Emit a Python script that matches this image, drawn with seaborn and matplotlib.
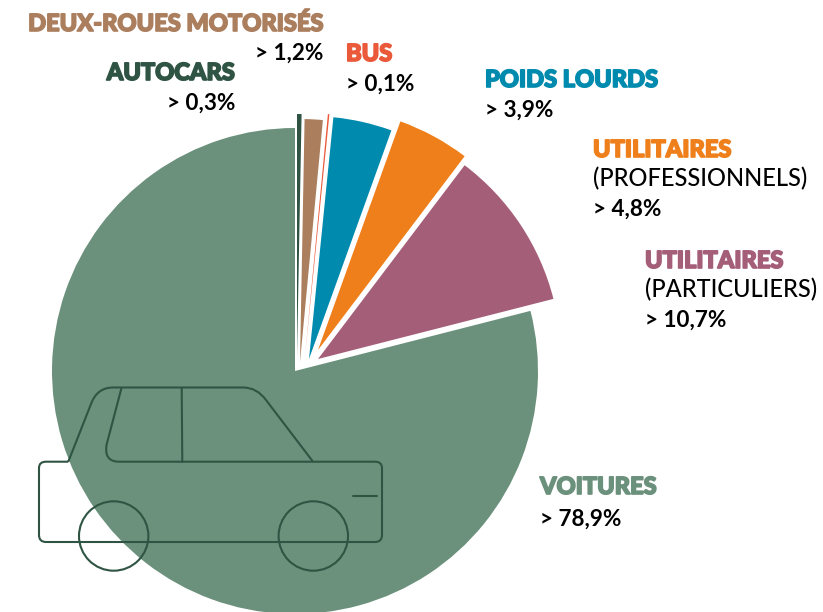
import matplotlib
matplotlib.use("Agg")
import matplotlib.pyplot as plt
import matplotlib.patheffects as path_effects
from matplotlib.patches import Circle, PathPatch
from matplotlib.path import Path
import seaborn as sns

# === Data ===
categories = ["AUTOCARS", "DEUX-ROUES MOTORISÉS", "BUS", "POIDS LOURDS",
              "UTILITAIRES", "UTILITAIRES", "VOITURES"]
subtitles = ["", "", "", "", "(PROFESSIONNELS)", "(PARTICULIERS)", ""]
shares = [0.3, 1.2, 0.1, 3.9, 4.8, 10.7, 78.9]

# === Style ===
colors = ["#2F5443", "#AB7F5E", "#E9593A", "#008BAE", "#EF7F1A", "#A55E78", "#6B917C"]
dark = "#2F5443"
W, H = 823, 612
cx, cy, radius = 295, 371, 243

# offset of each slice's tip from the pie centre, in pixels
shifts = [(2, -14), (5, -9), (10, -15), (14, -12), (23, -21), (23, -12), (0, 0)]

# x, baseline y, alignment for header / subtitle / value lines
label_pos = [
    (235, [80, 110], "right"),
    (323, [31, 60], "right"),
    (346, [61, 91], "left"),
    (485, [87, 117], "left"),
    (593, [157, 186, 216], "left"),
    (645, [268, 297, 327], "left"),
    (540, [494, 526], "left"),
]

sns.set_theme(style="white")
plt.rcParams["font.family"] = ["Lato", "DejaVu Sans"]

fig = plt.figure(figsize=(W / 100, H / 100), dpi=100)
ax = fig.add_axes([0, 0, 1, 1])


def py(y):
    return H - y


# --- Pie ---
wedges, _ = ax.pie(shares, colors=sns.color_palette(colors), startangle=90,
                   counterclock=False, center=(cx, py(cy)), radius=radius,
                   normalize=True, wedgeprops={"linewidth": 0})
for wedge, (dx, dy) in zip(wedges, shifts):
    wedge.set_center((cx + dx, py(cy + dy)))
ax.set_xlim(0, W)
ax.set_ylim(0, H)
ax.set_aspect("equal")
ax.axis("off")

# --- Car outline ---
body = [
    (Path.MOVETO, (68.3, 461.7)),
    (Path.LINETO, (91, 404)),
    (Path.CURVE3, (97, 387.5)),
    (Path.CURVE3, (113, 387.5)),
    (Path.LINETO, (243, 387.5)),
    (Path.CURVE3, (257, 387.5)),
    (Path.CURVE3, (266, 400)),
    (Path.LINETO, (313, 461.7)),
    (Path.LINETO, (375, 461.7)),
    (Path.CURVE3, (382, 461.7)),
    (Path.CURVE3, (382, 468)),
    (Path.LINETO, (382, 535)),
    (Path.CURVE3, (382, 542)),
    (Path.CURVE3, (375, 542)),
    (Path.LINETO, (46, 542)),
    (Path.CURVE3, (39, 542)),
    (Path.CURVE3, (39, 535)),
    (Path.LINETO, (39, 468)),
    (Path.CURVE3, (39, 461.7)),
    (Path.CURVE3, (46, 461.7)),
    (Path.LINETO, (68.3, 461.7)),
]
window = [
    (Path.MOVETO, (121.5, 388)),
    (Path.LINETO, (106.5, 445)),
    (Path.CURVE3, (104, 461.7)),
    (Path.CURVE3, (119, 461.7)),
    (Path.LINETO, (313, 461.7)),
]
for outline in [body, window]:
    codes = [c for c, _ in outline]
    verts = [(x, py(y)) for _, (x, y) in outline]
    ax.add_patch(PathPatch(Path(verts, codes), fill=False, edgecolor=dark, lw=1.5))
ax.plot([181.7, 182.3], [py(388), py(461.7)], color=dark, lw=1.5)
ax.plot([352.7, 376.7], [py(496), py(496)], color=dark, lw=1.5)
for x in [113.7, 313.3]:
    ax.add_patch(Circle((x, py(536)), 34.7, fill=False, edgecolor=dark, lw=1.5))

# --- Labels ---
for cat, sub, share, color, (x, ys, ha) in zip(categories, subtitles, shares, colors, label_pos):
    ax.text(x, py(ys[0]), cat, color=color, fontsize=17, fontweight="black", ha=ha, va="baseline",
            path_effects=[path_effects.withStroke(linewidth=1.2, foreground=color)])
    if sub:
        ax.text(x, py(ys[1]), sub, color="black", fontsize=17, fontweight="medium", ha=ha, va="baseline")
    value = "> " + f"{share}".replace(".", ",") + "%"
    ax.text(x, py(ys[-1]), value, color="black", fontsize=16.2, fontweight="bold", ha=ha, va="baseline")

fig.savefig("out.png", dpi=100)
